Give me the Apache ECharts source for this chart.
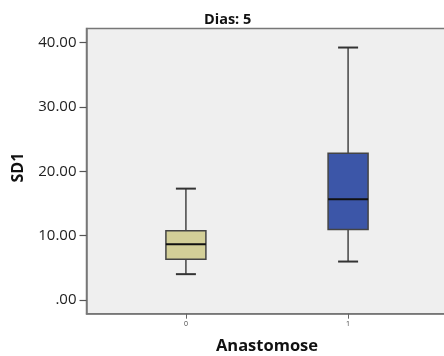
<!DOCTYPE html>
<html><head><meta charset="utf-8">
<script src="https://cdn.jsdelivr.net/npm/echarts@6/dist/echarts.min.js"></script>
<style>html,body{margin:0;padding:0;background:#fff}#c{width:444px;height:356px}</style>
</head><body><div id="c"></div>
<script>
const groups = [0, 1];
const groupLabels = ['0', '1'];
const whiskerLow = [4.0, 5.96];
const q1 = [6.33, 10.93];
const median = [8.66, 15.66];
const q3 = [10.73, 22.8];
const whiskerHigh = [17.3, 39.24];
const yTicks = [0, 10, 20, 30, 40];
const boxColors = ['#d3cf98', '#3c56a8'];

const FONT = 'Open Sans';
const data = groups.map((g, i) => [g, whiskerLow[i], q1[i], median[i], q3[i], whiskerHigh[i]]);

const chart = echarts.init(document.getElementById('c'), null, {renderer: 'canvas'});
chart.setOption({
  animation: false,
  backgroundColor: '#ffffff',
  title: {
    text: 'Dias: 5', left: 199, top: 7,
    textStyle: {fontFamily: FONT, fontWeight: 'bold', fontSize: 14.5, color: '#111'}
  },
  grid: {
    left: 86.5, top: 28.5, width: 361, height: 285.2,
    outerBoundsMode: 'none', containLabel: false,
    show: true, backgroundColor: '#efefef', borderColor: '#777', borderWidth: 1.5
  },
  xAxis: {
    type: 'value', min: -0.613, max: 1.613,
    splitLine: {show: false},
    axisLine: {show: true, onZero: false, lineStyle: {color: '#777', width: 1.5}},
    axisTick: {show: true, customValues: groups, length: 5, lineStyle: {color: '#666', width: 1}},
    axisLabel: {customValues: groups, formatter: v => groupLabels[groups.indexOf(v)], fontSize: 7, color: '#444', margin: 7, fontFamily: FONT},
    name: 'Anastomose', nameLocation: 'middle', nameGap: 24,
    nameTextStyle: {fontFamily: FONT, fontWeight: 'bold', fontSize: 16.5, color: '#111'}
  },
  yAxis: {
    type: 'value', min: -2.15, max: 42.2,
    splitLine: {show: false},
    axisLine: {show: true, onZero: false, lineStyle: {color: '#777', width: 1.5}},
    axisTick: {show: true, customValues: yTicks, length: 7, lineStyle: {color: '#555', width: 1.2}},
    axisLabel: {customValues: yTicks, formatter: v => v === 0 ? '.00' : v.toFixed(2), fontSize: 15, color: '#222', margin: 10, fontFamily: FONT},
    name: 'SD1', nameLocation: 'middle', nameGap: 60,
    nameTextStyle: {fontFamily: FONT, fontWeight: 'bold', fontSize: 16, color: '#111', padding: [0, 0, 0, 7]}
  },
  series: [{
    type: 'custom',
    data: data,
    encode: {x: 0, y: [1, 2, 3, 4, 5]},
    renderItem: function (params, api) {
      const x = api.value(0);
      const lo = api.coord([x, api.value(1)]);
      const b1 = api.coord([x, api.value(2)]);
      const md = api.coord([x, api.value(3)]);
      const b3 = api.coord([x, api.value(4)]);
      const hi = api.coord([x, api.value(5)]);
      const cx = lo[0], hw = 20, cw = 10;
      const ws = {stroke: '#444', lineWidth: 1.5};
      return {type: 'group', children: [
        {type: 'line', shape: {x1: cx, y1: hi[1], x2: cx, y2: b3[1]}, style: ws},
        {type: 'line', shape: {x1: cx, y1: b1[1], x2: cx, y2: lo[1]}, style: ws},
        {type: 'line', shape: {x1: cx - cw, y1: hi[1], x2: cx + cw, y2: hi[1]}, style: {stroke: '#333', lineWidth: 2}},
        {type: 'line', shape: {x1: cx - cw, y1: lo[1], x2: cx + cw, y2: lo[1]}, style: {stroke: '#333', lineWidth: 2}},
        {type: 'rect', shape: {x: cx - hw, y: b3[1], width: 2 * hw, height: b1[1] - b3[1]},
          style: {fill: boxColors[params.dataIndex], stroke: '#444', lineWidth: 1.5}},
        {type: 'line', shape: {x1: cx - hw, y1: md[1], x2: cx + hw, y2: md[1]}, style: {stroke: '#111', lineWidth: 2}}
      ]};
    }
  }]
});
</script></body></html>
